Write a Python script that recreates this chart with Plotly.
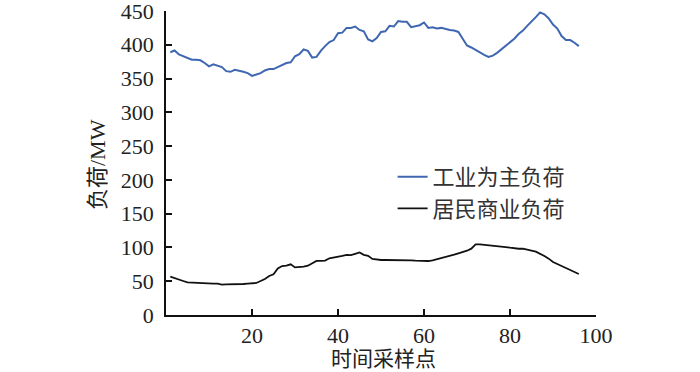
import plotly.graph_objects as go

x_points = list(range(1, 97))

industrial_load = [
    389, 391.6, 385.6, 383, 380, 378, 378, 377, 373, 368,
    371, 369, 367, 361, 360, 363, 362, 360, 358, 354,
    356, 358, 362, 364, 364, 367, 370, 373, 374, 383,
    386, 393, 391, 381, 382, 391, 398, 404, 407, 417,
    418, 425, 425, 427, 422, 420, 408, 405, 410, 419,
    420, 428, 427, 435, 434, 434, 426, 428, 429, 433,
    425, 426, 424, 425, 423, 422, 421, 419, 409, 399,
    396, 392, 388, 385, 382, 384, 388, 393, 399, 403,
    409, 416, 421, 428, 434, 441, 448, 445, 439, 430,
    424, 413, 407, 407, 403, 398,
]

residential_load = [
    56.7, 54.2, 51.8, 50.3, 48.3, 47.9, 47.4, 46.9, 46.4, 46.4,
    46.4, 46.4, 44.9, 45.4, 45.4, 44.9, 44.9, 45.9, 46.4, 46.9,
    47.4, 50.3, 53.3, 57.7, 60.2, 69.0, 72.5, 73.0, 75.0, 70.5,
    70.5, 71.5, 73.0, 76.5, 80.0, 80.0, 80.5, 84.0, 85.0, 85.5,
    87.5, 89.0, 88.5, 90.5, 92.5, 89.0, 87.5, 83.0, 82.0, 81.4,
    81.4, 81.4, 81.9, 81.4, 81.4, 80.9, 80.9, 80.4, 79.9, 79.9,
    79.9, 80.9, 82.4, 83.9, 85.4, 87.3, 89.3, 91.3, 93.2, 95.2,
    98.2, 104.6, 104.6, 104.1, 103.6, 103.1, 102.1, 101.6, 100.6, 99.6,
    98.6, 98.1, 98.1, 96.2, 95.2, 93.7, 90.8, 87.3, 83.4, 78.4,
    75.5, 72.5, 70.1, 67.1, 64.2, 60.7,
]

series_names = ["工业为主负荷", "居民商业负荷"]
x_ticks = [20, 40, 60, 80, 100]
y_ticks = [0, 50, 100, 150, 200, 250, 300, 350, 400, 450]

FONT = "'Liberation Serif', 'Noto Sans CJK SC', serif"

fig = go.Figure()
fig.add_trace(go.Scatter(x=x_points, y=industrial_load, mode="lines",
                         name=series_names[0],
                         line=dict(color="#3f67b1", width=2)))
fig.add_trace(go.Scatter(x=x_points, y=residential_load, mode="lines",
                         name=series_names[1],
                         line=dict(color="#111111", width=1.8)))

fig.update_layout(
    width=700, height=372,
    margin=dict(l=166, r=104, t=11, b=57, autoexpand=False),
    paper_bgcolor="white", plot_bgcolor="white",
    font=dict(family=FONT, size=22, color="#222222"),
    showlegend=True,
    legend=dict(x=0.527, y=(315 - 156) / 304, xanchor="left", yanchor="top",
                bgcolor="rgba(0,0,0,0)",
                font=dict(family="'Noto Sans CJK SC', 'Liberation Serif'", size=22, color="#333333"),
                tracegroupgap=0),
    xaxis=dict(range=[0, 100], tickvals=x_ticks, ticktext=[str(v) for v in x_ticks],
               ticks="inside", ticklen=6, tickwidth=1.5, tickcolor="#111",
               showline=True, linecolor="#111", linewidth=1.5,
               showgrid=False, zeroline=False, automargin=False,
               ticklabeloverflow="allow",
               tickfont=dict(family=FONT, size=22, color="#222")),
    yaxis=dict(range=[0, 450], tickvals=y_ticks, ticktext=[str(v) for v in y_ticks],
               ticks="inside", ticklen=6, tickwidth=1.5, tickcolor="#111",
               showline=True, linecolor="#111", linewidth=1.5,
               showgrid=False, zeroline=False, ticklabelstandoff=6, automargin=False,
               ticklabeloverflow="allow",
               tickfont=dict(family=FONT, size=22, color="#222")),
    annotations=[
        dict(text="负荷/MW", xref="paper", yref="paper",
             x=(97 - 166) / 430, y=(315 - 165) / 304, textangle=-90,
             showarrow=False, xanchor="center", yanchor="middle",
             font=dict(family=FONT, size=22, color="#222")),
        dict(text="时间采样点", xref="paper", yref="paper",
             x=(383 - 166) / 430, y=(315 - 359) / 304,
             showarrow=False, xanchor="center", yanchor="middle",
             font=dict(family=FONT, size=21, color="#222")),
    ],
)

fig.write_html("out.html",
               config={"displayModeBar": False},
               post_script="document.body.style.margin='0';document.body.style.overflow='hidden';")
